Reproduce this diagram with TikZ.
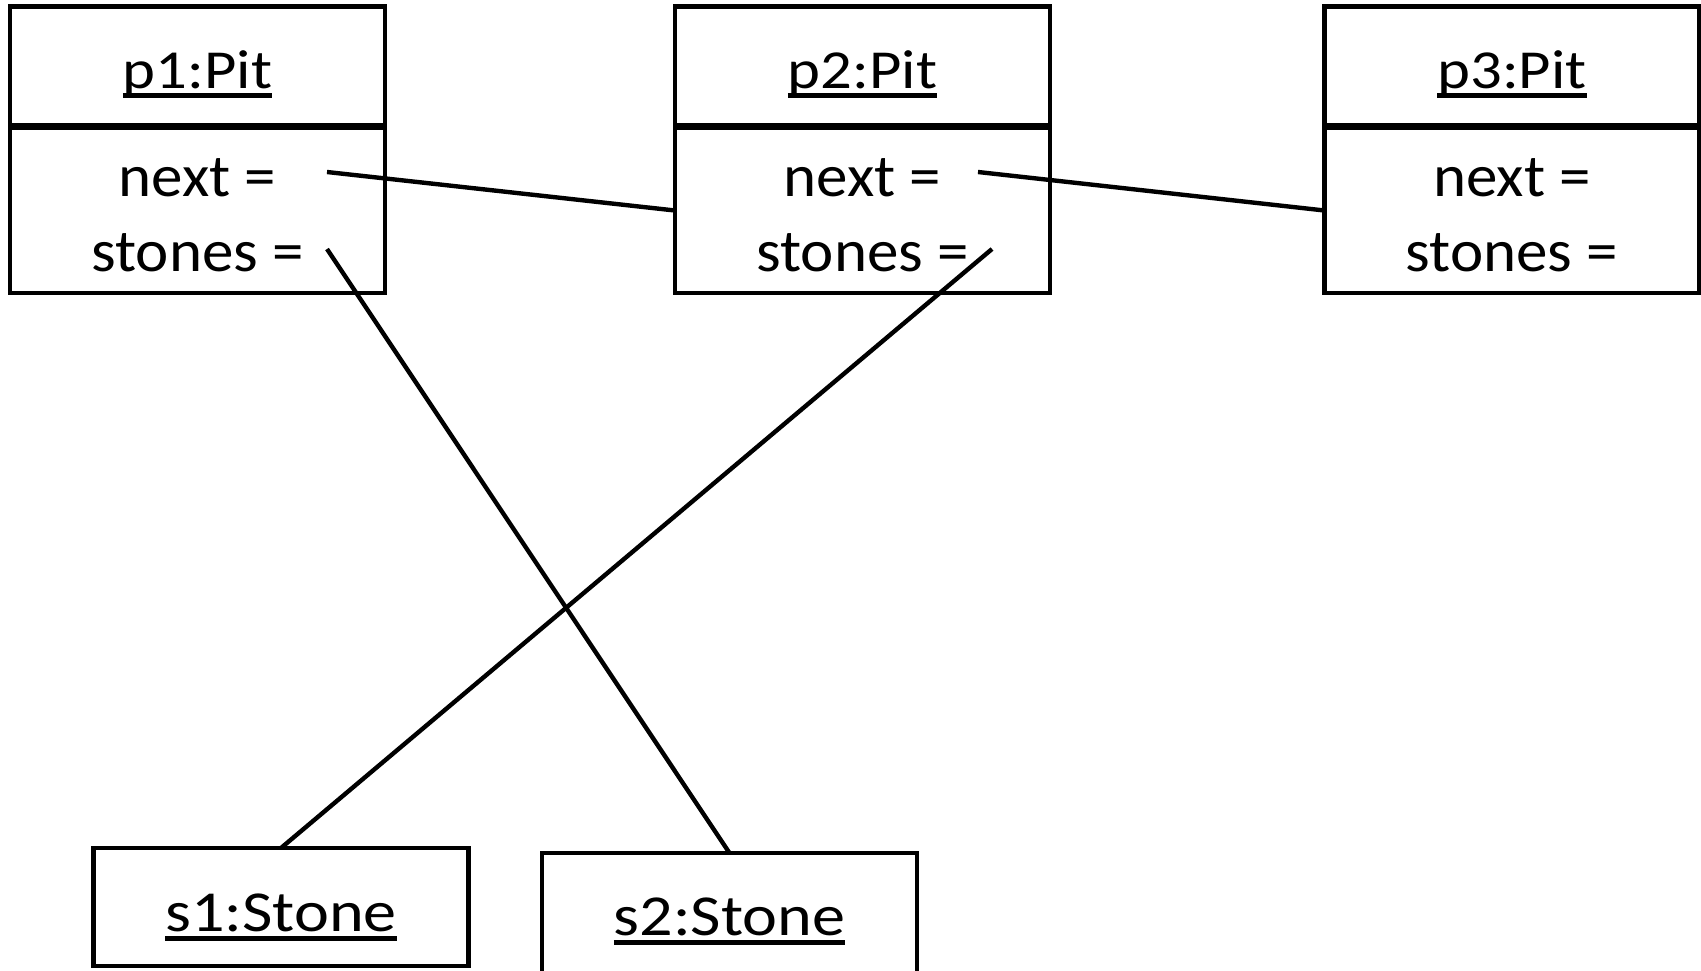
\documentclass[tikz,border=0pt]{standalone}
\usepackage{fontspec}
\setmainfont{Carlito}[FakeStretch=1.05]
\newfontfamily\namefont{Carlito}[FakeStretch=1.14]
\newsavebox{\namebox}
% object name with a heavy underline
\newcommand{\objname}[1]{\sbox{\namebox}{#1}\rlap{\rule[-4.8pt]{\wd\namebox}{2.5pt}}\usebox{\namebox}}
\tikzset{
  objbox/.style={draw, line width=2.2pt, inner sep=0pt, outer sep=0pt, minimum width=187.5pt},
  link/.style={line width=2.2pt},
  txt/.style={anchor=base, inner sep=0pt, font=\fontsize{30}{36}\selectfont},
  nametxt/.style={txt, font=\namefont\fontsize{27.5}{33}\selectfont},
  stonetxt/.style={txt, font=\namefont\fontsize{29}{35}\selectfont}
}
\begin{document}
\begin{tikzpicture}[x=0.5pt, y=-0.5pt]
  \useasboundingbox (0,0) rectangle (1701,970);
  \clip (0,0) rectangle (1701,970);
  % the three pits: name part and attribute part
  \foreach \n/\x in {1/197.5, 2/862.5, 3/1512} {
    \node[objbox, minimum height=59.25pt] (pit\n) at (\x,65.75) {};
    \node[objbox, minimum height=82.5pt] (slots\n) at (\x,210.5) {};
    \node[nametxt] (name\n) at (\x,88) {\objname{p\n:Pit}};
    \node[txt] (next\n) at (\x,196) {next =};
    \node[txt] (stones\n) at (\x,271) {stones =};
  }
  % the stones
  \node[objbox, minimum height=59pt] (s1) at (281,907) {};
  \node[stonetxt] (s1name) at (281,931) {\objname{s1:Stone}};
  \node[objbox, minimum height=73.5pt] (s2) at (729.5,926.5) {};
  \node[stonetxt] (s2name) at (729.5,935) {\objname{s2:Stone}};
  % where the links leave the slots
  \coordinate (n1) at (327,172);
  \coordinate (st1) at (327,249);
  \coordinate (n2) at (978,172);
  \coordinate (st2) at (992,249);
  \draw[link] (n1) -- (slots2.west);
  \draw[link] (n2) -- (slots3.west);
  \draw[link] (st1) -- (s2.north);
  \draw[link] (st2) -- (s1.north);
\end{tikzpicture}
\end{document}
